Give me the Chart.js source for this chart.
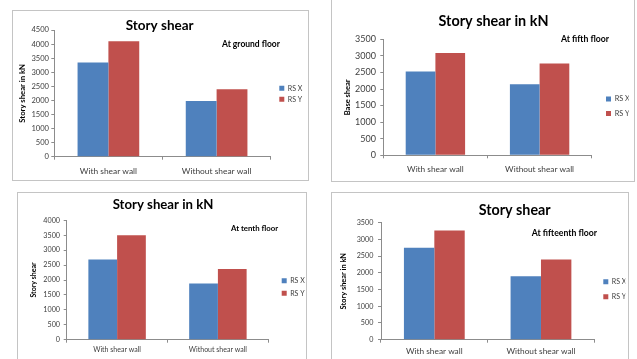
<!DOCTYPE html>
<html>
<head>
<meta charset="utf-8">
<script src="https://cdn.jsdelivr.net/npm/chart.js"></script>
<style>
  html, body { margin: 0; padding: 0; background: #fff; width: 637px; height: 359px; overflow: hidden; position: relative; }
  .panel { position: absolute; border: 1px solid #c4c4c4; background: #fff; }
  .panel canvas { display: block; }
</style>
</head>
<body>
<div class="panel" id="p0"><canvas id="c0"></canvas></div>
<div class="panel" id="p1"><canvas id="c1"></canvas></div>
<div class="panel" id="p2"><canvas id="c2"></canvas></div>
<div class="panel" id="p3"><canvas id="c3"></canvas></div>
<script>
// Story shear results (kN) for the building with and without shear walls
const categories = ['With shear wall', 'Without shear wall'];
const seriesNames = ['RS X', 'RS Y'];

const groundFloorX = [3350, 1980];
const groundFloorY = [4100, 2400];
const fifthFloorX = [2530, 2140];
const fifthFloorY = [3090, 2770];
const tenthFloorX = [2690, 1880];
const tenthFloorY = [3500, 2370];
const fifteenthFloorX = [2750, 1900];
const fifteenthFloorY = [3270, 2400];

const chartTitles = ['Story shear', 'Story shear in kN', 'Story shear in kN', 'Story shear'];
const floorNotes = ['At ground floor', 'At fifth floor', 'At tenth floor', 'At fifteenth floor'];
const yAxisTitles = ['Story shear in kN', 'Base shear', 'Story shear', 'Story shear in kN'];
const yAxisMax = [4500, 3500, 4000, 3500];
const yTickStep = 500;

const seriesValues = [
  [groundFloorX, groundFloorY],
  [fifthFloorX, fifthFloorY],
  [tenthFloorX, tenthFloorY],
  [fifteenthFloorX, fifteenthFloorY]
];

const seriesColors = ['#4F81BD', '#C0504D'];
const axisColor = '#8c8c8c';
const labelColor = '#404040';

// Panel frames and per-panel layout settings
const panels = [
  { left: 12, top: 10, w: 295, h: 169, yW: 41.3, padTop: 19, xH: 23.3, padRight: 7.3,
    legPad: 4, legDx: 4.6, legDy: 0.5, legSize: 7, yTickPad: 2.3, tickSize: 7.6,
    yTitleSize: 7.7, yTitlePad: 4.7, xTickPad: 6.3, catSize: 8.4,
    titleSize: 13.5, titleX: 146.7, titleY: 15, noteSize: 8.5, noteX: 209, noteY: 33.3 },
  { left: 331, top: -2, w: 302, h: 182, yW: 51.3, padTop: 40.3, xH: 25.7, padRight: 12.3,
    legPad: 7.3, legDx: 7, legDy: 9, legSize: 7.3, yTickPad: 4.3, tickSize: 9,
    yTitleSize: 7.5, yTitlePad: 11.5, xTickPad: 5.7, catSize: 8.3,
    titleSize: 14.4, titleX: 161.5, titleY: 22.7, noteSize: 8.7, noteX: 229, noteY: 40.3 },
  { left: 17, top: 192, w: 288, h: 168, yW: 48.7, padTop: 27.3, xH: 21.3, padRight: 7.7,
    legPad: 5.6, legDx: 7.8, legDy: 7, legSize: 7, yTickPad: 3.7, tickSize: 7.2,
    yTitleSize: 7, yTitlePad: 11.1, xTickPad: 3.1, catSize: 7,
    titleSize: 13.2, titleX: 145, titleY: 12, noteSize: 7.8, noteX: 213, noteY: 35.3 },
  { left: 331, top: 192, w: 296, h: 168, yW: 49, padTop: 29.7, xH: 21.3, padRight: 3.7,
    legPad: 8, legDx: 1, legDy: 8, legSize: 7, yTickPad: 4.7, tickSize: 7.2,
    yTitleSize: 7.4, yTitlePad: 7.6, xTickPad: 4, catSize: 8.3,
    titleSize: 14.3, titleX: 182.7, titleY: 17, noteSize: 8.7, noteX: 199.7, noteY: 40.3 }
];

Chart.defaults.font.family = 'Lato, "Open Sans", sans-serif';

// Chart heading and floor note drawn above the plot
const captionPlugin = {
  id: 'caption',
  afterDraw(chart, args, opts) {
    const ctx = chart.ctx;
    ctx.save();
    ctx.fillStyle = '#000';
    ctx.textBaseline = 'middle';
    ctx.textAlign = 'center';
    ctx.font = 'bold ' + opts.titleSize + 'px Lato, sans-serif';
    ctx.fillText(opts.title, opts.titleX, opts.titleY);
    ctx.textAlign = 'left';
    ctx.font = 'bold ' + opts.noteSize + 'px Lato, sans-serif';
    ctx.fillText(opts.note, opts.noteX, opts.noteY);
    ctx.restore();
  }
};

// Small offset of the legend block away from the plot edge
const legendNudge = {
  id: 'legendNudge',
  afterLayout(chart, args, opts) {
    const lg = chart.legend;
    if (!lg) return;
    lg.left += opts.dx; lg.right += opts.dx;
    lg.top += opts.dy; lg.bottom += opts.dy;
  }
};

panels.forEach((p, i) => {
  const box = document.getElementById('p' + i);
  box.style.left = p.left + 'px';
  box.style.top = p.top + 'px';
  const canvas = document.getElementById('c' + i);
  canvas.width = p.w;
  canvas.height = p.h;
  canvas.style.width = p.w + 'px';
  canvas.style.height = p.h + 'px';

  new Chart(canvas, {
    type: 'bar',
    data: {
      labels: categories,
      datasets: seriesNames.map((name, k) => ({
        label: name,
        data: seriesValues[i][k],
        backgroundColor: seriesColors[k],
        borderWidth: 0,
        categoryPercentage: 0.57,
        barPercentage: 1
      }))
    },
    plugins: [captionPlugin, legendNudge],
    options: {
      responsive: false,
      devicePixelRatio: 1,
      animation: false,
      layout: { padding: { top: p.padTop, right: p.padRight, bottom: 0, left: 0 } },
      plugins: {
        title: { display: false },
        tooltip: { enabled: false },
        legend: {
          position: 'right',
          fullSize: false,
          maxWidth: 30,
          labels: {
            boxWidth: 5, boxHeight: 5, padding: p.legPad,
            color: labelColor, font: { size: p.legSize }
          }
        },
        legendNudge: { dx: p.legDx, dy: p.legDy },
        caption: {
          title: chartTitles[i], titleSize: p.titleSize, titleX: p.titleX, titleY: p.titleY,
          note: floorNotes[i], noteSize: p.noteSize, noteX: p.noteX, noteY: p.noteY
        }
      },
      scales: {
        x: {
          grid: { drawOnChartArea: false, tickLength: 3, color: axisColor, offset: true },
          border: { color: axisColor },
          ticks: { color: labelColor, font: { size: p.catSize }, padding: p.xTickPad, maxRotation: 0 },
          afterFit(s) { s.height = p.xH; }
        },
        y: {
          min: 0,
          max: yAxisMax[i],
          grid: { drawOnChartArea: false, tickLength: 3, color: axisColor },
          border: { color: axisColor },
          ticks: {
            stepSize: yTickStep, color: labelColor, font: { size: p.tickSize }, padding: p.yTickPad,
            callback: (value) => String(value)
          },
          title: {
            display: true, text: yAxisTitles[i], color: '#000',
            font: { size: p.yTitleSize, weight: 'bold' },
            padding: { top: p.yTitlePad, bottom: 0 }
          },
          afterFit(s) { s.width = p.yW; }
        }
      }
    }
  });
});
</script>
</body>
</html>
